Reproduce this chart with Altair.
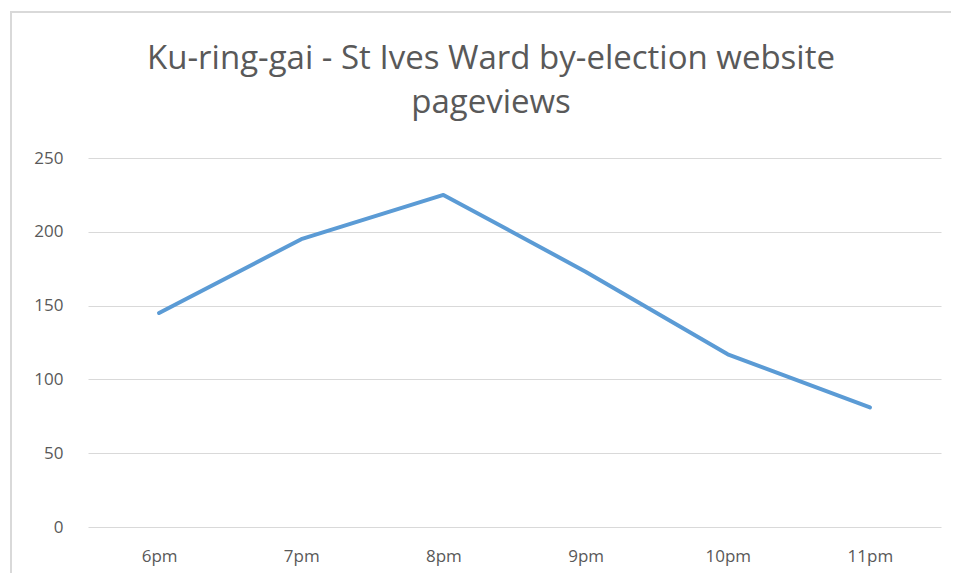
import altair as alt
import pandas as pd

hours = ["6pm", "7pm", "8pm", "9pm", "10pm", "11pm"]
pageviews = [145, 195, 225, 173, 117, 81]
title_lines = ["Ku-ring-gai - St Ives Ward by-election website", "pageviews"]

df = pd.DataFrame({"hour": hours, "views": pageviews})

FONT = "Open Sans"
GREY = "#595959"

line = alt.Chart(df).mark_line(color="#5b9bd5", strokeWidth=4, strokeCap="round", strokeJoin="round").encode(
    x=alt.X("hour:N", sort=hours, title=None,
            scale=alt.Scale(paddingInner=0, paddingOuter=0.5),
            axis=alt.Axis(labelAngle=0, ticks=False, domain=False, grid=False,
                          labelFont=FONT, labelFontSize=17, labelColor=GREY, labelPadding=21)),
    y=alt.Y("views:Q", title=None,
            scale=alt.Scale(domain=[0, 250]),
            axis=alt.Axis(values=[0, 50, 100, 150, 200, 250], ticks=False, domain=False,
                          grid=True, gridColor="#d9d9d9", gridWidth=1.2,
                          labelFont=FONT, labelFontSize=17, labelColor=GREY, labelPadding=25)),
)

t1 = alt.Chart(pd.DataFrame({"t": [title_lines[0]]})).mark_text(
    font=FONT, fontSize=33, color=GREY, align="center", baseline="alphabetic"
).encode(text="t:N", x=alt.value(403), y=alt.value(-89))
t2 = alt.Chart(pd.DataFrame({"t": [title_lines[1]]})).mark_text(
    font=FONT, fontSize=33, color=GREY, align="center", baseline="alphabetic"
).encode(text="t:N", x=alt.value(403), y=alt.value(-45))

border_top = alt.Chart(pd.DataFrame({"a": [0]})).mark_rule(color="#d9d9d9", strokeWidth=2).encode(
    x=alt.value(-78), x2=alt.value(863), y=alt.value(-146))
border_left = alt.Chart(pd.DataFrame({"a": [0]})).mark_rule(color="#d9d9d9", strokeWidth=2).encode(
    x=alt.value(-77), y=alt.value(-147), y2=alt.value(415))

chart = alt.layer(border_top, border_left, line, t1, t2).properties(
    width=853, height=369,
    padding={"left": 80, "top": 150, "right": 10, "bottom": 46},
    autosize=alt.AutoSizeParams(type="none"),
    background="white",
).configure_view(stroke=None)

chart.save("out.html", embed_options={"renderer": "svg", "actions": False})
